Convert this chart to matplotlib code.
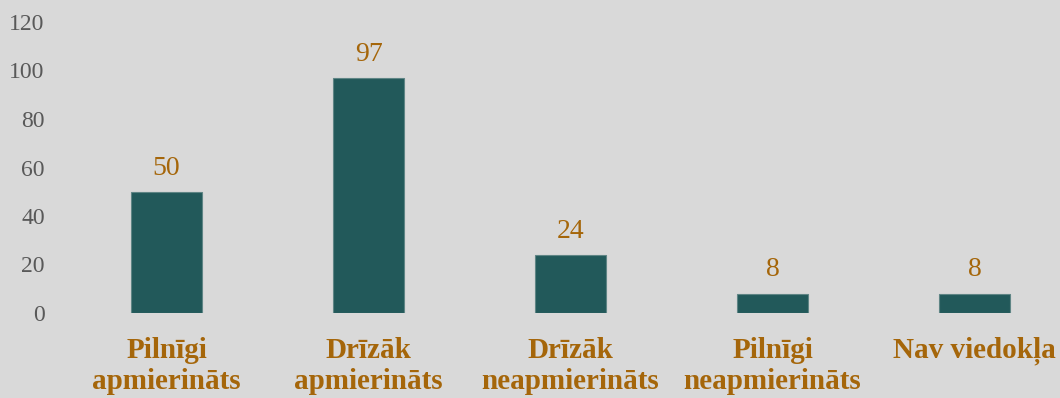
import matplotlib
matplotlib.use('Agg')
import matplotlib.pyplot as plt

categories = ['Pilnīgi\napmierināts', 'Drīzāk\napmierināts', 'Drīzāk\nneapmierināts',
              'Pilnīgi\nneapmierināts', 'Nav viedokļa']
values = [50, 97, 24, 8, 8]
yticks = [0, 20, 40, 60, 80, 100, 120]

bg = '#d9d9d9'
bar_color = '#22595a'
gold = '#a5660a'
gray = '#595959'

plt.rcParams['font.family'] = ['Liberation Serif', 'DejaVu Serif']

W, H = 1060, 398
fig = plt.figure(figsize=(W / 100, H / 100), dpi=100, facecolor=bg)
# axes in pixels: left 60, right 1060, y=0 at 313, y=120 at 22
ax = fig.add_axes([60 / W, (H - 313) / H, 1000 / W, 291 / H])
ax.set_facecolor(bg)

x = list(range(len(categories)))
bars = ax.bar(x, values, width=0.35, color=bar_color, edgecolor='#5f8585', linewidth=0.8)
ax.bar_label(bars, labels=[str(v) for v in values], padding=8, fontsize=20, color=gold)

ax.set_xlim((60 - 166.5) / 202, (1060 - 166.5) / 202)
ax.set_ylim(0, 120)
ax.set_yticks(yticks)
ax.set_yticklabels([str(t) for t in yticks], fontsize=17, color=gray)
ax.set_xticks(x)
ax.set_xticklabels(categories, fontsize=21, fontweight='bold', color=gold, linespacing=1.2)
ax.tick_params(axis='y', length=0, pad=11)
ax.tick_params(axis='x', length=0, pad=17)
for s in ax.spines.values():
    s.set_visible(False)

fig.savefig('out.png', dpi=100, facecolor=bg)
